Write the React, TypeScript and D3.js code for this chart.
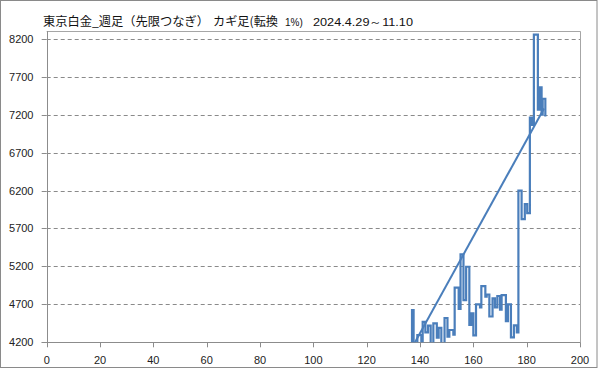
import React from "react";
import * as d3 from "d3";

// ---- data ----
const titleMain = "東京白金_週足（先限つなぎ）";
const titleKagi = "カギ足(転換";
const titlePct = "1%)";
const titleRange = "2024.4.29～11.10";

const xTicks = [0, 20, 40, 60, 80, 100, 120, 140, 160, 180, 200];
const yTicks = [4200, 4700, 5200, 5700, 6200, 6700, 7200, 7700, 8200];

// kagi chart: each vertical line at kagiX[i] runs from the previous level to kagiLevel[i]
const kagiStart = 4150;
const kagiX = [
  137, 137.6, 139, 140.5, 141, 142, 143, 144, 145, 146.3, 147, 148, 149.2, 150.3, 151, 152.5,
  153, 154.5, 155.2, 156.3, 157.3, 158.5, 159.3, 160, 161, 162.5, 163, 164.5, 165, 166,
  167.2, 168.1, 169, 170, 170.6, 172.2, 173, 174.1, 175.2, 176.3, 176.9, 178.1, 179.3, 180.2,
  181.2, 182, 182.7, 184.2, 184.8, 185.6, 186, 187,
];
const kagiLevel = [
  4625, 4150, 4296, 4190, 4470, 4330, 4420, 4150, 4450, 4260, 4390, 4170, 4520, 4275, 4362, 4300,
  4920, 4640, 5360, 4757, 5196, 4430, 4580, 4290, 4700, 4660, 4940, 4800, 4830, 4540,
  4780, 4660, 4810, 4630, 4823, 4480, 4700, 4266, 4424, 4330, 6200, 5823, 6020, 5902,
  7160, 7066, 8255, 7265, 7560, 7200, 7410, 7176,
];
const trendX = [137.8, 186.5];
const trendY = [4180, 7280];

const W = 599;
const H = 369;
const left = 46.7;
const right = 580;
const top = 31.2;
const bottom = 342.3;

export default function App() {
  const x = d3.scaleLinear().domain([0, 200]).range([left, right]);
  const y = d3.scaleLinear().domain([4200, 8300]).range([bottom, top]);

  const pts: [number, number][] = [[kagiX[0], kagiStart]];
  for (let i = 0; i < kagiX.length; i++) {
    pts.push([kagiX[i], kagiLevel[i]]);
    if (i + 1 < kagiX.length) pts.push([kagiX[i + 1], kagiLevel[i]]);
  }
  const line = d3
    .line<[number, number]>()
    .x((d) => x(d[0]))
    .y((d) => y(d[1]));
  const trendPts: [number, number][] = trendX.map((v, i) => [v, trendY[i]]);

  const grid = "#8a8a8a";
  const axisCol = "#8c8c8c";
  const blue = "#4a7ebb";
  const numFont = "'Liberation Sans', Arial, sans-serif";
  const jpFont = "'Noto Sans CJK JP', sans-serif";

  return (
    <svg
      width={W}
      height={H}
      style={{ position: "absolute", left: 0, top: 0, background: "#fff" }}
    >
      <defs>
        <clipPath id="plotClip">
          <rect x={left} y={top} width={right - left} height={bottom - top} />
        </clipPath>
      </defs>
      <rect x={0.5} y={0.5} width={W - 2.5} height={H - 2} fill="#fff" stroke="#8a8a8a" />

      {/* gridlines */}
      {yTicks.slice(1).map((t) => (
        <line
          key={t}
          x1={left}
          x2={right}
          y1={Math.round(y(t)) + 0.5}
          y2={Math.round(y(t)) + 0.5}
          stroke={grid}
          strokeDasharray="4,3"
        />
      ))}
      {/* plot area border top/right */}
      <line x1={left} x2={right} y1={Math.round(top) + 0.5} y2={Math.round(top) + 0.5} stroke="#a6a6a6" />
      <line x1={Math.round(right) + 0.5} x2={Math.round(right) + 0.5} y1={top} y2={bottom} stroke="#a6a6a6" />

      {/* axes */}
      <line x1={Math.round(left) + 0.5} x2={Math.round(left) + 0.5} y1={top} y2={bottom + 0.5} stroke={axisCol} />
      <line x1={left - 5} x2={right + 0.5} y1={Math.round(bottom) + 0.5} y2={Math.round(bottom) + 0.5} stroke={axisCol} />
      {yTicks.map((t) => (
        <g key={t}>
          <line
            x1={left - 5}
            x2={left}
            y1={Math.round(y(t)) + 0.5}
            y2={Math.round(y(t)) + 0.5}
            stroke={axisCol}
          />
          <text
            x={33.5}
            y={y(t) + 4}
            textAnchor="end"
            fontFamily={numFont}
            fontSize={11}
            fill="#222"
          >
            {t}
          </text>
        </g>
      ))}
      {xTicks.map((t) => (
        <g key={t}>
          <line
            x1={Math.round(x(t)) + 0.5}
            x2={Math.round(x(t)) + 0.5}
            y1={bottom}
            y2={bottom + 5}
            stroke={axisCol}
          />
          <text
            x={x(t)}
            y={363.5}
            textAnchor="middle"
            fontFamily={numFont}
            fontSize={11}
            fill="#222"
          >
            {t}
          </text>
        </g>
      ))}

      {/* series */}
      <g clipPath="url(#plotClip)">
        <path d={line(pts) || ""} fill="none" stroke={blue} strokeWidth={2.2} strokeLinejoin="miter" />
        <path d={line(trendPts) || ""} fill="none" stroke={blue} strokeWidth={2} />
      </g>

      {/* title */}
      <text x={43} y={26} fontFamily={jpFont} fontSize={12} fill="#111" textLength={166} lengthAdjust="spacingAndGlyphs">
        {titleMain}
      </text>
      <text x={213} y={26} fontFamily={jpFont} fontSize={12} fill="#111" textLength={65} lengthAdjust="spacingAndGlyphs">
        {titleKagi}
      </text>
      <text x={285} y={26} fontFamily={numFont} fontSize={10} fill="#111">
        {titlePct}
      </text>
      <text x={313} y={26} fontFamily={numFont} fontSize={11} fill="#111" textLength={100} lengthAdjust="spacingAndGlyphs">
        {titleRange}
      </text>
    </svg>
  );
}
